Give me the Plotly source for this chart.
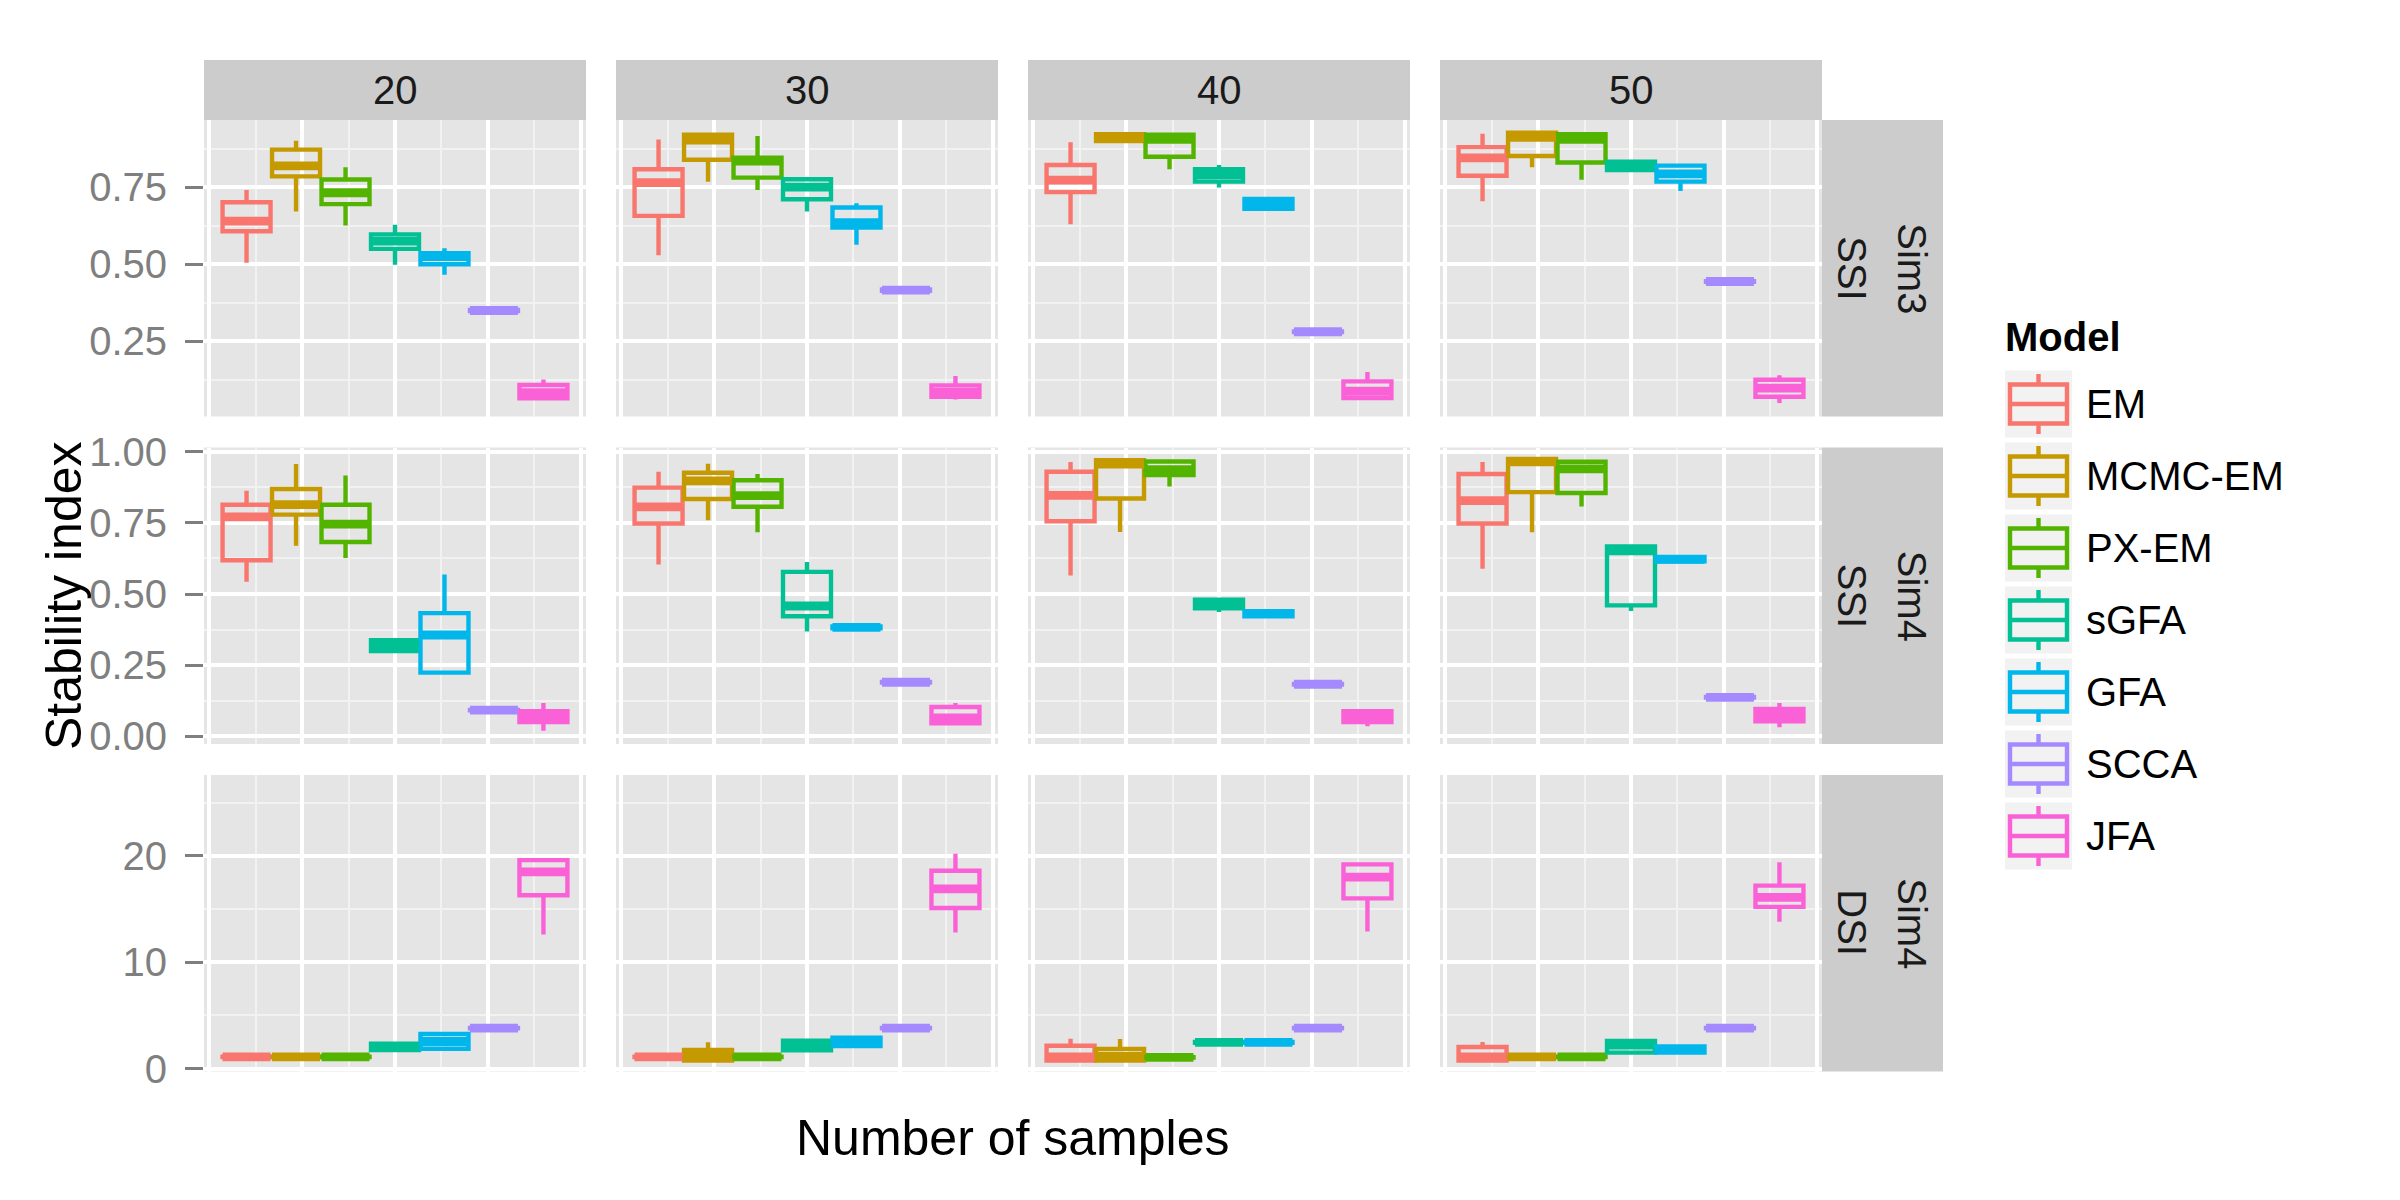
import plotly.graph_objects as go

# categories
models = ["EM", "MCMC-EM", "PX-EM", "sGFA", "GFA", "SCCA", "JFA"]
colors = ["#F8766D", "#C49A00", "#53B400", "#00C094", "#00B6EB", "#A58AFF", "#FB61D7"]
sample_sizes = ["20", "30", "40", "50"]
row_sim = ["Sim3", "Sim4", "Sim4"]
row_index = ["SSI", "SSI", "DSI"]

# Sim3 / SSI  (one list per sample size, models in order above)
sim3_ssi_lo = [[0.505, 0.671, 0.626, 0.498, 0.466, 0.347, 0.061],
               [0.529, 0.768, 0.741, 0.671, 0.563, 0.413, 0.061],
               [0.630, 0.898, 0.808, 0.749, 0.678, 0.279, 0.063],
               [0.704, 0.815, 0.774, 0.800, 0.738, 0.442, 0.050]]
sim3_ssi_q1 = [[0.607, 0.785, 0.695, 0.550, 0.500, 0.348, 0.065],
               [0.657, 0.839, 0.781, 0.711, 0.619, 0.414, 0.070],
               [0.734, 0.900, 0.849, 0.768, 0.680, 0.280, 0.066],
               [0.787, 0.851, 0.830, 0.806, 0.768, 0.443, 0.070]]
sim3_ssi_med = [[0.640, 0.819, 0.732, 0.575, 0.525, 0.350, 0.083],
                [0.765, 0.903, 0.835, 0.750, 0.635, 0.416, 0.085],
                [0.773, 0.912, 0.905, 0.790, 0.697, 0.281, 0.088],
                [0.845, 0.912, 0.905, 0.820, 0.793, 0.444, 0.098]]
sim3_ssi_q3 = [[0.701, 0.872, 0.775, 0.597, 0.536, 0.352, 0.108],
               [0.808, 0.920, 0.846, 0.776, 0.684, 0.418, 0.107],
               [0.822, 0.922, 0.920, 0.808, 0.712, 0.282, 0.120],
               [0.880, 0.927, 0.922, 0.833, 0.820, 0.445, 0.125]]
sim3_ssi_hi = [[0.741, 0.901, 0.815, 0.628, 0.552, 0.353, 0.126],
               [0.905, 0.925, 0.916, 0.779, 0.698, 0.419, 0.137],
               [0.896, 0.925, 0.923, 0.822, 0.714, 0.283, 0.150],
               [0.923, 0.930, 0.925, 0.840, 0.820, 0.446, 0.140]]

# Sim4 / SSI
sim4_ssi_lo = [[0.543, 0.670, 0.627, 0.297, 0.221, 0.090, 0.020],
               [0.604, 0.759, 0.717, 0.368, 0.378, 0.188, 0.043],
               [0.565, 0.718, 0.878, 0.437, 0.420, 0.181, 0.035],
               [0.589, 0.717, 0.808, 0.440, 0.615, 0.135, 0.032]]
sim4_ssi_q1 = [[0.619, 0.779, 0.683, 0.300, 0.224, 0.091, 0.050],
               [0.748, 0.834, 0.807, 0.422, 0.380, 0.189, 0.046],
               [0.756, 0.836, 0.918, 0.450, 0.422, 0.182, 0.050],
               [0.748, 0.858, 0.855, 0.460, 0.615, 0.136, 0.053]]
sim4_ssi_med = [[0.771, 0.814, 0.746, 0.320, 0.356, 0.092, 0.070],
                [0.806, 0.898, 0.846, 0.458, 0.383, 0.190, 0.065],
                [0.847, 0.957, 0.937, 0.467, 0.432, 0.183, 0.070],
                [0.828, 0.965, 0.940, 0.652, 0.622, 0.137, 0.075]]
sim4_ssi_q3 = [[0.814, 0.869, 0.814, 0.338, 0.433, 0.093, 0.088],
               [0.874, 0.926, 0.900, 0.578, 0.386, 0.191, 0.103],
               [0.930, 0.970, 0.966, 0.480, 0.440, 0.184, 0.088],
               [0.922, 0.975, 0.965, 0.667, 0.630, 0.138, 0.096]]
sim4_ssi_hi = [[0.863, 0.957, 0.917, 0.341, 0.569, 0.094, 0.117],
               [0.930, 0.958, 0.922, 0.613, 0.388, 0.192, 0.117],
               [0.964, 0.972, 0.968, 0.482, 0.442, 0.185, 0.090],
               [0.964, 0.975, 0.967, 0.668, 0.632, 0.139, 0.117]]

# Sim4 / DSI
sim4_dsi_lo = [[1.05, 1.05, 1.05, 1.70, 1.84, 3.75, 12.6],
               [1.05, 0.70, 1.05, 1.70, 2.10, 3.75, 12.8],
               [0.72, 0.72, 1.00, 2.40, 2.40, 3.75, 12.9],
               [0.72, 1.05, 1.05, 1.45, 1.48, 3.75, 13.8]]
sim4_dsi_q1 = [[1.08, 1.08, 1.08, 1.75, 1.87, 3.78, 16.3],
               [1.08, 0.75, 1.08, 1.72, 2.12, 3.78, 15.1],
               [0.75, 0.75, 1.03, 2.43, 2.43, 3.78, 16.0],
               [0.75, 1.08, 1.08, 1.50, 1.50, 3.78, 15.2]]
sim4_dsi_med = [[1.10, 1.10, 1.10, 2.10, 2.55, 3.80, 18.5],
                [1.10, 1.20, 1.10, 2.20, 2.50, 3.80, 16.9],
                [1.10, 1.15, 1.05, 2.47, 2.47, 3.80, 18.0],
                [1.10, 1.10, 1.10, 2.20, 1.80, 3.80, 16.1]]
sim4_dsi_q3 = [[1.12, 1.12, 1.12, 2.35, 3.25, 3.82, 19.6],
               [1.12, 1.75, 1.12, 2.62, 2.90, 3.82, 18.6],
               [2.15, 1.85, 1.07, 2.51, 2.51, 3.82, 19.2],
               [2.03, 1.12, 1.12, 2.60, 2.08, 3.82, 17.2]]
sim4_dsi_hi = [[1.15, 1.15, 1.15, 2.40, 3.30, 3.85, 19.8],
               [1.15, 2.47, 1.15, 2.66, 2.94, 3.85, 20.2],
               [2.80, 2.78, 1.10, 2.55, 2.55, 3.85, 19.4],
               [2.50, 1.15, 1.15, 2.62, 2.10, 3.85, 19.4]]

# y axis per row
y_ranges = [[0.006, 0.968], [-0.027, 1.015], [-0.27, 27.6]]
y_tickvals = [[0.25, 0.5, 0.75], [0, 0.25, 0.5, 0.75, 1.0], [0, 10, 20]]
y_ticktext = [["0.25", "0.50", "0.75"], ["0.00", "0.25", "0.50", "0.75", "1.00"], ["0", "10", "20"]]
y_minor = [[0.125, 0.375, 0.625, 0.875], [0.125, 0.375, 0.625, 0.875], [5, 15, 25]]

rows = [
    (sim3_ssi_lo, sim3_ssi_q1, sim3_ssi_med, sim3_ssi_q3, sim3_ssi_hi),
    (sim4_ssi_lo, sim4_ssi_q1, sim4_ssi_med, sim4_ssi_q3, sim4_ssi_hi),
    (sim4_dsi_lo, sim4_dsi_q1, sim4_dsi_med, sim4_dsi_q3, sim4_dsi_hi),
]

W, H = 2400, 1200
FONT = "Liberation Sans, Arial, Helvetica, sans-serif"
BOX_W = 0.97
LW = 4.4

# panel geometry in pixels
col_x = [(204, 586), (616, 998), (1028, 1410), (1440, 1822)]
row_y = [(120, 416.5), (447.5, 744), (775, 1071.5)]


def fx(p):
    return p / W


def fy(p):
    return 1 - p / H


def label(text, xp, yp, size=40, color="black", angle=0, xanchor="center"):
    return dict(text=text, x=fx(xp), y=fy(yp), xref="paper", yref="paper",
                xanchor=xanchor, yanchor="middle", textangle=angle, showarrow=False,
                font=dict(family=FONT, size=size, color=color))


def seg(x0, y0, x1, y1, line, kind="line", **kw):
    return dict(type=kind, xref="paper", yref="paper", x0=fx(x0), x1=fx(x1),
                y0=fy(y0), y1=fy(y1), line=line, **kw)


fig = go.Figure()
layout_axes = {}
shapes = []
annotations = []

for r, (lo, q1, med, q3, hi) in enumerate(rows):
    for c in range(4):
        n = r * 4 + c + 1
        xa = "x" if n == 1 else f"x{n}"
        ya = "y" if n == 1 else f"y{n}"
        for i, m in enumerate(models):
            fig.add_trace(go.Box(
                x=[i], q1=[q1[c][i]], median=[med[c][i]], q3=[q3[c][i]],
                lowerfence=[lo[c][i]], upperfence=[hi[c][i]],
                width=BOX_W, whiskerwidth=0, boxpoints=False,
                fillcolor="rgba(0,0,0,0)", line=dict(color=colors[i], width=LW),
                name=m, showlegend=False, xaxis=xa, yaxis=ya, hoverinfo="skip",
            ))
            # fattened median line, as ggplot draws it
            fig.add_trace(go.Scatter(
                x=[i - BOX_W / 2, i + BOX_W / 2], y=[med[c][i], med[c][i]],
                mode="lines", line=dict(color=colors[i], width=LW * 2),
                showlegend=False, xaxis=xa, yaxis=ya, hoverinfo="skip",
            ))

        x0, x1 = col_x[c]
        y0, y1 = row_y[r]
        layout_axes["xaxis" if n == 1 else f"xaxis{n}"] = dict(
            domain=[fx(x0), fx(x1)], anchor=ya, range=[-0.86, 6.86], automargin=False,
            tickmode="array", tickvals=[-0.75, 1.125, 3.0, 4.875, 6.75],
            showticklabels=False, ticks="", showgrid=True, gridcolor="white", gridwidth=3.5,
            minor=dict(tickmode="array", tickvals=[0.1875, 2.0625, 3.9375, 5.8125],
                       showgrid=True, gridcolor="#F2F2F2", gridwidth=1.8, ticks=""),
            zeroline=False, showline=False, fixedrange=True,
        )
        layout_axes["yaxis" if n == 1 else f"yaxis{n}"] = dict(
            domain=[fy(y1), fy(y0)], anchor=xa, range=y_ranges[r], automargin=False,
            tickmode="array", tickvals=y_tickvals[r], ticktext=y_ticktext[r],
            showticklabels=(c == 0), ticks="outside" if c == 0 else "",
            ticklen=18, tickwidth=3, tickcolor="#7F7F7F", ticklabelstandoff=10,
            tickfont=dict(family=FONT, size=40, color="#7F7F7F"),
            showgrid=True, gridcolor="white", gridwidth=3.5,
            minor=dict(tickmode="array", tickvals=y_minor[r],
                       showgrid=True, gridcolor="#F2F2F2", gridwidth=1.8, ticks=""),
            zeroline=False, showline=False, fixedrange=True,
        )

# top strips
for c, lab in enumerate(sample_sizes):
    x0, x1 = col_x[c]
    shapes.append(seg(x0, 120, x1, 60, dict(width=0), kind="rect", fillcolor="#CCCCCC", layer="below"))
    annotations.append(label(lab, (x0 + x1) / 2, 90, color="#1A1A1A"))

# right strips
for r in range(3):
    y0, y1 = row_y[r]
    shapes.append(seg(1822, y1, 1943, y0, dict(width=0), kind="rect", fillcolor="#CCCCCC", layer="below"))
    annotations.append(label(row_sim[r], 1912, (y0 + y1) / 2, color="#1A1A1A", angle=90))
    annotations.append(label(row_index[r], 1852, (y0 + y1) / 2, color="#1A1A1A", angle=90))

# axis titles
annotations.append(label("Number of samples", 1013, 1138, size=50))
annotations.append(label("Stability index", 64, 596, size=50, angle=-90))

# legend, drawn like ggplot's boxplot keys
annotations.append(label("<b>Model</b>", 2003, 337, xanchor="left"))
for i, m in enumerate(models):
    cy = 404 + 72 * i
    shapes.append(seg(2005, cy + 33.5, 2072, cy - 33.5, dict(width=0), kind="rect", fillcolor="#F2F2F2"))
    kl = dict(color=colors[i], width=LW)
    shapes.append(seg(2010, cy + 19.5, 2067, cy - 19.5, kl, kind="rect"))
    shapes.append(seg(2010, cy, 2067, cy, kl))
    shapes.append(seg(2038.5, cy - 19.5, 2038.5, cy - 30, kl))
    shapes.append(seg(2038.5, cy + 19.5, 2038.5, cy + 30, kl))
    annotations.append(label(m, 2084, cy, xanchor="left"))

fig.update_layout(
    template="none",
    width=W, height=H, autosize=False,
    margin=dict(l=0, r=0, t=0, b=0, pad=0),
    paper_bgcolor="white", plot_bgcolor="#E5E5E5",
    boxmode="overlay", showlegend=False,
    shapes=shapes, annotations=annotations,
    font=dict(family=FONT),
    **layout_axes,
)

fig.write_html("out.html", config={"displayModeBar": False},
               post_script="document.body.style.margin='0';")
